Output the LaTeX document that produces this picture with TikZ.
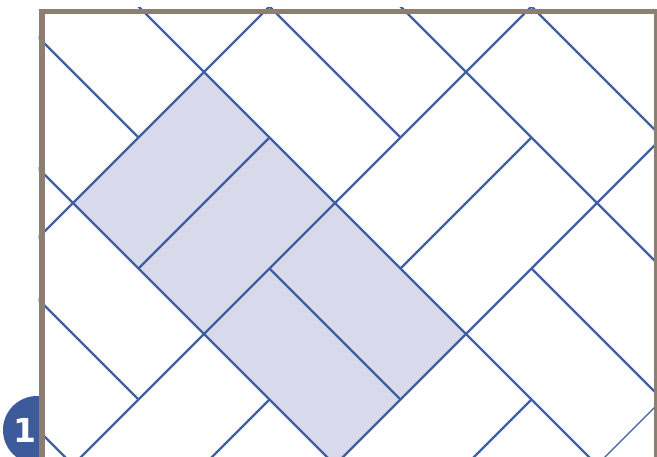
\documentclass[tikz,border=0pt]{standalone}
\usepackage{fontspec}
\newfontfamily\badgefont{DejaVu Sans}
\definecolor{tileline}{HTML}{3F5FA0}
\definecolor{tilefill}{HTML}{D8D9EA}
\definecolor{framecol}{HTML}{8C7F72}
\definecolor{badgecol}{HTML}{3D5A9A}
\tikzset{
  tile/.style={draw=tileline, line width=2.4pt},
  thintile/.style={draw=tileline, line width=1.2pt},
  framestyle/.style={draw=framecol, line width=5.5pt},
}
\begin{document}
\begin{tikzpicture}[x=1pt,y=-1pt]
\useasboundingbox (0,0) rectangle (657,456);
% badge
\fill[badgecol] (37,430) circle (34);
\node[text=white, font=\badgefont\bfseries\fontsize{33}{33}\selectfont, inner sep=0pt] (badge) at (25,430.5) {1};
% white field
\fill[white] (42,11.5) rectangle (662,470);
\begin{scope}
\clip (38.5,7.5) rectangle (662,470);
\begin{scope}[shift={(7.5,6.5)}, x={(65.5pt,-65.5pt)}, y={(-65.5pt,-65.5pt)}]
  % shaded bricks
  \fill[tilefill] (2,-1) -- (6,-1) -- (6,1) -- (2,1) -- cycle;
  % block boundaries
  \foreach \a in {0,2,4,6,10} \draw[tile] (\a,-7) -- (\a,6);
  \draw[thintile] (8,-7) -- (8,6);
  \foreach \b in {-5,-3,...,5} \draw[tile] (-2,\b) -- (12,\b);
  % splits inside blocks (basketweave)
  \foreach \A in {-1,...,5} {
    \foreach \B in {-4,...,3} {
      \ifodd\numexpr\A+\B+100\relax
        \draw[tile] ({2*\A+1},{2*\B-1}) -- ({2*\A+1},{2*\B+1});
      \else
        \draw[tile] ({2*\A},{2*\B}) -- ({2*\A+2},{2*\B});
      \fi
    }
  }
\end{scope}
\end{scope}
% frame
\draw[framestyle] (42,470) -- (42,11.5) -- (657,11.5) -- (657,470);
\end{tikzpicture}
\end{document}
